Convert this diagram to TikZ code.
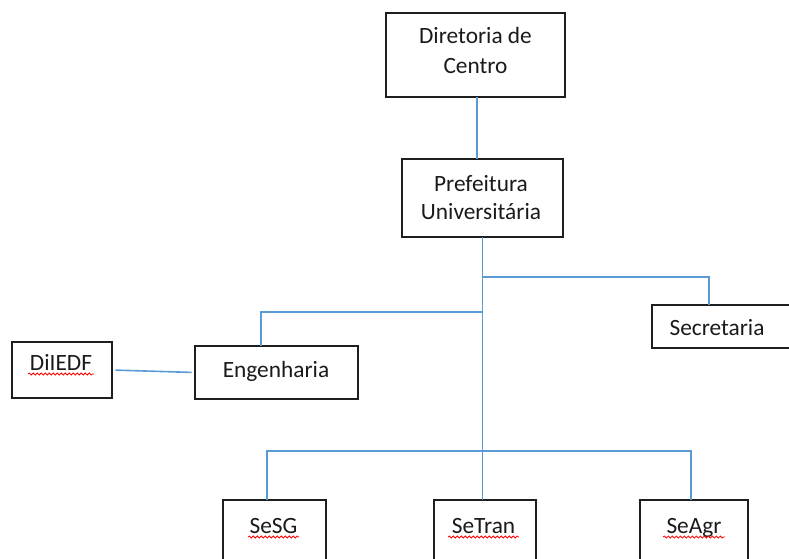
\documentclass[tikz,border=0pt]{standalone}
\usepackage{fontspec}
\setmainfont{Carlito}
\usetikzlibrary{fit,decorations.pathmorphing}
\definecolor{linkblue}{HTML}{5B9BD5}
\definecolor{boxline}{HTML}{1E1E1E}
\definecolor{txt}{HTML}{1A1A1A}
\begin{document}
\begin{tikzpicture}[x=0.75pt,y=-0.75pt,
  box/.style={draw=boxline,line width=1.1pt,inner sep=0pt,outer sep=0pt,rectangle},
  conn/.style={draw=linkblue,line width=1.2pt},
  lbl/.style={inner sep=0pt,text=txt,font=\fontsize{17.5}{21.75}\selectfont},
  squig/.style={draw=red,line width=0.55pt,decorate,decoration={snake,amplitude=0.75pt,segment length=3pt}}]
\useasboundingbox (0,0) rectangle (789,558);
\clip (0,0) rectangle (789,558);
% boxes
\node[box,fit={(386,13) (565,97)}] (dir) {};
\node[box,fit={(402,159) (563,237)}] (pref) {};
\node[box,fit={(652,305) (792,348)}] (sec) {};
\node[box,fit={(12,342) (112,398)}] (dil) {};
\node[box,fit={(195,346) (358,399)}] (eng) {};
\node[box,fit={(223,500) (326,575)}] (sesg) {};
\node[box,fit={(434,500) (536,575)}] (setran) {};
\node[box,fit={(640,500) (748,575)}] (seagr) {};
% texts
\node[lbl,anchor=base] (t1a) at (475.5,43) {Diretoria de};
\node[lbl,anchor=base] (t1b) at (475.5,73) {Centro};
\node[lbl,anchor=base] (t2a) at (481,191) {Prefeitura};
\node[lbl,anchor=base] (t2b) at (481,219) {Universitária};
\node[lbl,anchor=base] (t3) at (717,335) {Secretaria};
\node[lbl,anchor=base] (t4) at (276,377) {Engenharia};
\node[lbl,anchor=base] (t5) at (61,370) {DiIEDF};
\node[lbl,anchor=base] (t6) at (273.5,533) {SeSG};
\node[lbl,anchor=base] (t7) at (483.5,533) {SeTran};
\node[lbl,anchor=base] (t8) at (694,533) {SeAgr};
% spell-check squiggles
\draw[squig] (28,374) -- (94,374);
\draw[squig] (248,537) -- (299,537);
\draw[squig] (448,537) -- (519,537);
\draw[squig] (663,537) -- (725,537);
% junction points
\coordinate (dirout) at (477,97);
\coordinate (prefin) at (477,159);
\coordinate (secj) at (482.5,277);
\coordinate (secin) at (709,305);
\coordinate (engj) at (482.5,312);
\coordinate (engin) at (261,346);
\coordinate (bus) at (482.5,451);
\coordinate (sesgin) at (267,500);
\coordinate (seagrin) at (691,500);
% connectors
\draw[conn] (dirout) -- (prefin);
\draw[conn] (pref.south) -- (pref.south |- setran.north);
\draw[conn] (secj) -| (secin);
\draw[conn] (engj) -| (engin);
\draw[conn,shorten <=2.5pt,shorten >=2.5pt] (dil.east) -- (eng.west);
\draw[conn] (sesgin) |- (bus) -| (seagrin);
\end{tikzpicture}
\end{document}
